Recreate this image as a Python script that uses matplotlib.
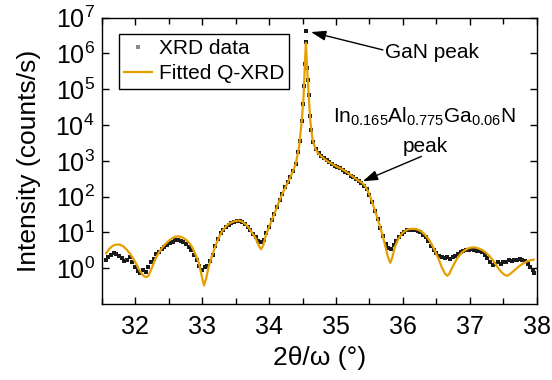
import matplotlib
matplotlib.use("Agg")
import matplotlib.pyplot as plt
import numpy as np
from matplotlib.ticker import FixedLocator, NullLocator, MultipleLocator

plt.rcParams['font.family'] = ['Liberation Sans', 'DejaVu Sans']
plt.rcParams['mathtext.fontset'] = 'custom'
plt.rcParams['mathtext.rm'] = 'Liberation Sans'
plt.rcParams['mathtext.it'] = 'Liberation Sans:italic'
plt.rcParams['mathtext.bf'] = 'Liberation Sans:bold'

# ---- measured XRD data (2theta/omega in degrees, log10 of counts/s) ----
data_2theta = [
    31.56, 31.60, 31.64, 31.68, 31.72, 31.76, 31.80, 31.84, 31.88, 31.92, 31.96,
    32.00, 32.04, 32.08, 32.12, 32.16, 32.20, 32.24, 32.28, 32.32, 32.36, 32.40,
    32.44, 32.48, 32.52, 32.56, 32.60, 32.64, 32.68, 32.72, 32.76, 32.80, 32.84,
    32.88, 32.92, 32.96, 33.00, 33.04, 33.08, 33.12, 33.16, 33.20, 33.24, 33.28,
    33.32, 33.36, 33.40, 33.44, 33.48, 33.52, 33.56, 33.60, 33.64, 33.68, 33.72,
    33.76, 33.80, 33.84, 33.88, 33.92, 33.96, 34.00, 34.04, 34.08, 34.12, 34.16,
    34.20, 34.24, 34.28, 34.32, 34.36, 34.40, 34.44, 34.47, 34.49, 34.51, 34.525,
    34.535, 34.545, 34.555, 34.565, 34.575, 34.59, 34.61, 34.63, 34.66, 34.70,
    34.74, 34.78, 34.82, 34.86, 34.90, 34.94, 34.98, 35.02, 35.06, 35.10, 35.14,
    35.18, 35.22, 35.26, 35.30, 35.34, 35.38, 35.42, 35.46, 35.50, 35.54, 35.58,
    35.62, 35.66, 35.70, 35.74, 35.78, 35.82, 35.86, 35.90, 35.94, 35.98, 36.02,
    36.06, 36.10, 36.14, 36.18, 36.22, 36.26, 36.30, 36.34, 36.38, 36.42, 36.46,
    36.50, 36.54, 36.58, 36.62, 36.66, 36.70, 36.74, 36.78, 36.82, 36.86, 36.90,
    36.94, 36.98, 37.02, 37.06, 37.10, 37.14, 37.18, 37.22, 37.26, 37.30, 37.34,
    37.38, 37.42, 37.46, 37.50, 37.54, 37.58, 37.62, 37.66, 37.70, 37.74, 37.78,
    37.82, 37.86, 37.90, 37.94, 37.96,
]
data_log10 = [
    0.22, 0.30, 0.38, 0.42, 0.40, 0.34, 0.28, 0.20, 0.24, 0.30, 0.18,
    0.02, -0.08, -0.12, -0.06, -0.10, 0.04, 0.16, 0.26, 0.40, 0.46, 0.55,
    0.60, 0.64, 0.70, 0.74, 0.78, 0.80, 0.77, 0.74, 0.68, 0.60, 0.50,
    0.36, 0.22, 0.05, -0.06, 0.02, 0.06, 0.20, 0.38, 0.62, 0.82, 0.98,
    1.08, 1.16, 1.22, 1.27, 1.30, 1.31, 1.31, 1.28, 1.23, 1.15, 1.06,
    0.96, 0.86, 0.76, 0.72, 0.80, 0.98, 1.16, 1.34, 1.52, 1.72, 1.90,
    2.08, 2.26, 2.42, 2.56, 2.72, 2.92, 3.25, 3.55, 4.10, 4.60, 5.10,
    5.70, 6.33, 6.62, 5.60, 5.25, 4.85, 4.25, 3.85, 3.52, 3.32,
    3.22, 3.14, 3.08, 3.02, 2.97, 2.92, 2.87, 2.83, 2.79, 2.75, 2.70,
    2.65, 2.59, 2.54, 2.48, 2.43, 2.38, 2.30, 2.20, 2.04, 1.84, 1.60,
    1.38, 1.12, 0.90, 0.68, 0.56, 0.54, 0.64, 0.76, 0.88, 0.96, 1.02,
    1.06, 1.08, 1.08, 1.07, 1.04, 1.00, 0.94, 0.86, 0.76, 0.62, 0.50,
    0.42, 0.34, 0.30, 0.28, 0.32, 0.27, 0.30, 0.34, 0.40, 0.46, 0.48,
    0.52, 0.50, 0.53, 0.50, 0.48, 0.47, 0.44, 0.36, 0.28, 0.18, 0.10,
    0.12, 0.16, 0.12, 0.18, 0.16, 0.22, 0.20, 0.24, 0.22, 0.27, 0.23,
    0.20, 0.12, 0.04, -0.06, -0.14,
]

# ---- fitted Q-XRD curve (2theta/omega in degrees, log10 of counts/s) ----
fit_2theta = [
    31.57, 31.62, 31.67, 31.72, 31.77, 31.82, 31.87, 31.92, 31.97, 32.02, 32.07,
    32.12, 32.16, 32.20, 32.25, 32.30, 32.35, 32.40, 32.45, 32.50, 32.55, 32.60,
    32.65, 32.70, 32.75, 32.80, 32.85, 32.90, 32.95, 33.00, 33.03, 33.06, 33.10,
    33.15, 33.20, 33.25, 33.30, 33.35, 33.40, 33.45, 33.50, 33.55, 33.60, 33.65,
    33.70, 33.75, 33.80, 33.85, 33.88, 33.91, 33.95, 34.00, 34.05, 34.10, 34.15,
    34.20, 34.25, 34.30, 34.35, 34.40, 34.45, 34.49, 34.516, 34.536, 34.551,
    34.565, 34.585, 34.615, 34.65, 34.69, 34.73, 34.78, 34.83, 34.88, 34.93,
    34.98, 35.03, 35.08, 35.13, 35.18, 35.23, 35.28, 35.33, 35.38, 35.43, 35.48,
    35.53, 35.58, 35.63, 35.68, 35.73, 35.77, 35.81, 35.84, 35.88, 35.93, 35.98,
    36.03, 36.08, 36.13, 36.18, 36.23, 36.28, 36.33, 36.38, 36.43, 36.48, 36.53,
    36.58, 36.63, 36.66, 36.69, 36.73, 36.78, 36.83, 36.88, 36.93, 36.98, 37.03,
    37.08, 37.13, 37.18, 37.23, 37.28, 37.33, 37.38, 37.43, 37.48, 37.53, 37.56,
    37.60, 37.65, 37.70, 37.75, 37.80, 37.85, 37.90, 37.95,
]
fit_log10 = [
    0.42, 0.55, 0.63, 0.66, 0.66, 0.62, 0.53, 0.42, 0.28, 0.11, -0.07,
    -0.20, -0.25, -0.22, 0.00, 0.24, 0.42, 0.56, 0.67, 0.76, 0.83, 0.88,
    0.89, 0.87, 0.81, 0.73, 0.60, 0.40, 0.17, -0.25, -0.48, -0.30, 0.05,
    0.35, 0.62, 0.85, 1.03, 1.15, 1.24, 1.29, 1.32, 1.33, 1.30, 1.23,
    1.13, 0.98, 0.84, 0.62, 0.53, 0.62, 0.90, 1.15, 1.38, 1.62, 1.86,
    2.08, 2.28, 2.47, 2.68, 2.92, 3.40, 4.15, 4.80, 5.73, 6.30,
    5.70, 5.08, 4.15, 3.59, 3.35, 3.22, 3.13, 3.05, 2.98, 2.93,
    2.87, 2.82, 2.78, 2.72, 2.66, 2.59, 2.52, 2.45, 2.40, 2.31, 2.14,
    1.90, 1.62, 1.33, 1.02, 0.66, 0.35, 0.15, 0.30, 0.60, 0.82, 0.96,
    1.04, 1.09, 1.10, 1.10, 1.07, 1.02, 0.93, 0.82, 0.66, 0.47, 0.26,
    0.02, -0.16, -0.21, -0.16, 0.00, 0.18, 0.33, 0.44, 0.51, 0.56, 0.58,
    0.58, 0.55, 0.51, 0.45, 0.36, 0.25, 0.12, -0.02, -0.13, -0.20, -0.21,
    -0.16, -0.08, 0.00, 0.08, 0.14, 0.19, 0.22, 0.24,
]

y_tick_exponents = [0, 1, 2, 3, 4, 5, 6, 7]
x_ticks = [32, 33, 34, 35, 36, 37, 38]

data_y = 10.0 ** np.array(data_log10)
fit_y = 10.0 ** np.array(fit_log10)

fig = plt.figure(figsize=(5.52, 3.80), dpi=100)
ax = fig.add_axes([0.1839, 0.200, 0.7889, 0.7534])

ax.plot(data_2theta, data_y, linestyle='none', marker='s', markersize=2.8,
        color='#1a1a1a', markeredgewidth=0, label='XRD data', zorder=2)
ax.plot(fit_2theta, fit_y, color='#E69F00', linewidth=1.6,
        label='Fitted Q-XRD', zorder=3)

ax.set_yscale('log')
ax.set_xlim(31.5, 38.0)
ax.set_ylim(1e-1, 1e7)

ax.yaxis.set_major_locator(FixedLocator([10.0 ** e for e in y_tick_exponents]))
ax.yaxis.set_minor_locator(NullLocator())
ax.xaxis.set_major_locator(FixedLocator(x_ticks))
ax.xaxis.set_minor_locator(MultipleLocator(0.5))

ax.tick_params(which='both', direction='in', top=True, right=True,
               labelsize=18, width=1.0, colors='black')
ax.tick_params(which='major', length=5)
ax.tick_params(which='minor', length=4)
ax.tick_params(axis='y', pad=5)
ax.tick_params(axis='x', pad=8)
for sp in ax.spines.values():
    sp.set_linewidth(1.0)

ax.set_xlabel('2θ/ω (°)', fontsize=19, labelpad=5)
ax.set_ylabel('Intensity (counts/s)', fontsize=19, labelpad=10)

leg = ax.legend(loc='upper left', bbox_to_anchor=(0.040, 0.943),
                borderaxespad=0, fontsize=15, frameon=True, fancybox=False,
                edgecolor='black', framealpha=1, handlelength=1.35,
                handletextpad=0.3, borderpad=0.25, labelspacing=0.3,
                markerscale=0.9)
leg.get_frame().set_linewidth(1.0)
leg.legend_handles[0].set_color('#8a8a8a')

# annotations
ax.annotate('', xy=(34.626, 10 ** 6.60), xytext=(35.70, 10 ** 6.10),
            arrowprops=dict(arrowstyle='-|>,head_length=0.9,head_width=0.3',
                            color='black', lw=1.0, shrinkA=0, shrinkB=0))
ax.text(36.44, 10 ** 5.876, 'GaN peak', fontsize=15, ha='center', va='baseline')

ax.annotate('', xy=(35.40, 10 ** 2.43), xytext=(36.275, 10 ** 3.124),
            arrowprops=dict(arrowstyle='-|>,head_length=0.9,head_width=0.3',
                            color='black', lw=1.0, shrinkA=0, shrinkB=0))
ax.text(36.32, 10 ** 4.07, r'In$_{0.165}$Al$_{0.775}$Ga$_{0.06}$N',
        fontsize=15, ha='center', va='baseline')
ax.text(36.34, 10 ** 3.247, 'peak', fontsize=15, ha='center', va='baseline')

fig.savefig('out.png', dpi=100)
